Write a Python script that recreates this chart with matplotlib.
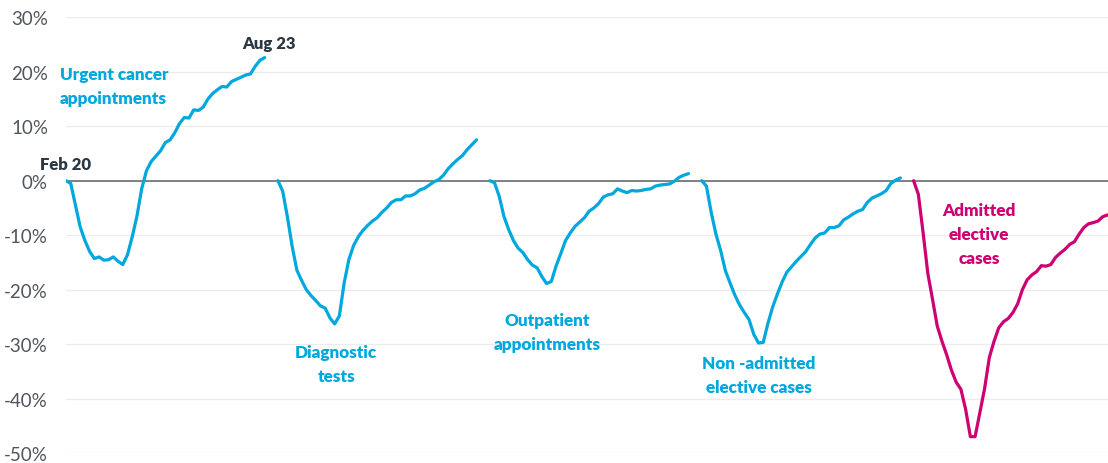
import matplotlib
matplotlib.use("Agg")
import matplotlib.pyplot as plt
import numpy as np

# ---- data (% change vs Feb 2020, monthly, Feb 20 .. Aug 23) ----
urgent_cancer = [0, -0.5, -4.5, -8.5, -11, -13, -14.3, -14.0, -14.6, -14.5, -14.0, -14.8, -15.4,
                 -13.6, -10.3, -6.5, -1.5, 1.8, 3.5, 4.5, 5.5, 7.0, 7.5, 8.8, 10.5, 11.6, 11.5,
                 13.0, 12.9, 13.5, 15.0, 16.0, 16.7, 17.3, 17.2, 18.2, 18.6, 19.0, 19.4, 19.6,
                 21.0, 22.1, 22.6]
diagnostic = [0, -1.9, -6.6, -12, -16.4, -18.3, -20.0, -21.1, -22.0, -23.0, -23.4, -25.2, -26.3,
              -24.8, -18.8, -14.5, -11.9, -10.3, -9.1, -8.2, -7.4, -6.8, -5.8, -5.0, -4.0, -3.5,
              -3.5, -2.8, -2.8, -2.4, -1.7, -1.4, -0.8, -0.2, 0.2, 1.0, 2.2, 3.1, 3.9, 4.6, 5.7,
              6.6, 7.5]
outpatient = [0, -0.4, -2.9, -6.6, -9.0, -11.0, -12.4, -13.2, -14.5, -15.5, -16.0, -17.6, -18.9,
              -18.5, -15.7, -13.4, -11.0, -9.6, -8.4, -7.6, -6.8, -5.6, -5.0, -4.2, -3.0, -2.6,
              -2.4, -1.5, -1.9, -2.2, -1.8, -1.9, -1.8, -1.6, -1.5, -1.0, -0.8, -0.7, -0.6, -0.1,
              0.6, 1.0, 1.3]
non_admitted = [0, -1.0, -5.8, -9.8, -12.8, -16.5, -18.8, -21.0, -22.8, -24.2, -25.5, -28.2, -29.8,
                -29.7, -26.2, -23.2, -20.8, -18.6, -16.8, -15.8, -14.8, -13.9, -13.0, -11.7, -10.5,
                -9.8, -9.6, -8.6, -8.6, -8.3, -7.2, -6.7, -6.1, -5.6, -5.3, -4.0, -3.2, -2.8, -2.4,
                -1.8, -0.5, 0.1, 0.5]
admitted = [0, -2.5, -9.5, -17.0, -21.8, -26.7, -29.5, -32.0, -34.8, -37.0, -38.3, -42.0, -47.0,
            -47.0, -42.6, -38.2, -32.5, -29.5, -27.0, -25.9, -25.3, -24.2, -22.6, -20.0, -18.2,
            -17.3, -16.7, -15.6, -15.7, -15.4, -14.1, -13.3, -12.6, -11.7, -11.2, -9.8, -8.6,
            -7.9, -7.7, -7.4, -6.6, -6.3, -6.2]

series = [urgent_cancer, diagnostic, outpatient, non_admitted, admitted]
labels = ["Urgent cancer\nappointments", "Diagnostic\ntests", "Outpatient\nappointments",
          "Non -admitted\nelective cases", "Admitted\nelective\ncases"]
yticks = [30, 20, 10, 0, -10, -20, -30, -40, -50]
start_label, end_label = "Feb 20", "Aug 23"

# ---- style ----
BLUE = "#00a8de"
MAGENTA = "#cf0072"
DARK = "#2b3844"
GREY = "#50565c"
colors = [BLUE, BLUE, BLUE, BLUE, MAGENTA]
gap = 2.8
period = len(urgent_cancer) - 1 + gap

plt.rcParams['font.family'] = ['Lato', 'DejaVu Sans']

fig = plt.figure(figsize=(11.08, 4.64), dpi=100)
ax = fig.add_axes([66 / 1108, 1 - 454 / 464, 1 - 66 / 1108, (454 - 18.3) / 464])

for i, (s, c) in enumerate(zip(series, colors)):
    x = i * period + np.arange(len(s))
    ax.plot(x, s, color=c, lw=2.3, solid_joinstyle='round', solid_capstyle='round',
            zorder=3, clip_on=True)

ax.set_xlim(0, 1042 / 4.73)
ax.set_ylim(-50, 30)
ax.set_yticks(yticks)
ax.set_yticklabels([f"{v}%" for v in yticks])
ax.set_xticks([])
ax.tick_params(axis='y', length=0, pad=13, labelsize=13.5, labelcolor=GREY)
ax.grid(axis='y', color='#ececec', lw=1)
ax.axhline(0, color='#6b6e72', lw=1.2, zorder=2)
for sp in ax.spines.values():
    sp.set_visible(False)

# series labels
lab_pos = [(-1.3, 17.4, 'left'), (57.1, -33.6, 'center'), (101.7, -27.8, 'center'),
           (146.5, -35.7, 'center'), (193.0, -9.8, 'center')]
for (lx, ly, ha), txt, c in zip(lab_pos, labels, colors):
    ax.text(lx, ly, txt, color=c, fontsize=12.3, fontweight='heavy', ha=ha, va='center',
            linespacing=1.6, clip_on=False)

ax.text(0, 3.0, start_label, color=DARK, fontsize=12, fontweight='heavy', ha='center',
        va='center', clip_on=False)
ax.text(43, 25.3, end_label, color=DARK, fontsize=12, fontweight='heavy', ha='center',
        va='center', clip_on=False)

fig.savefig("out.png", dpi=100)
